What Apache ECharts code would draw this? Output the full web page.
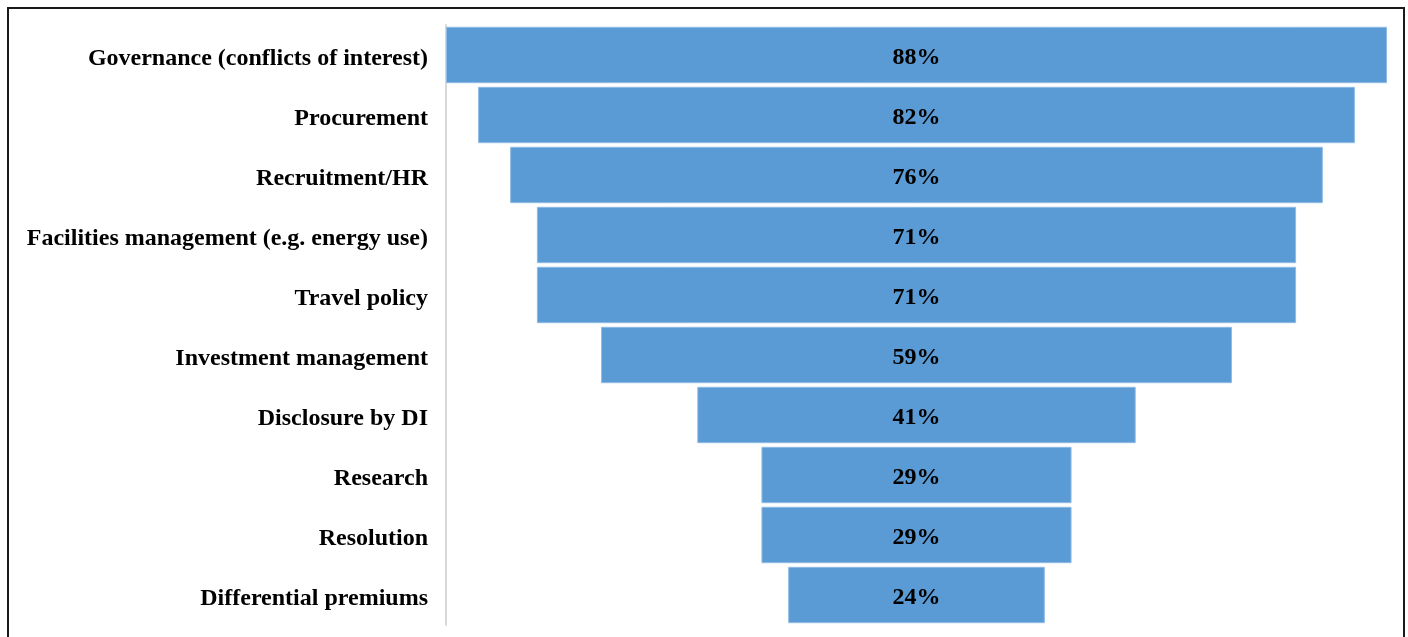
<!DOCTYPE html>
<html>
<head>
<meta charset="utf-8">
<script src="https://cdn.jsdelivr.net/npm/echarts@6/dist/echarts.min.js"></script>
<style>
  html, body { margin: 0; padding: 0; background: #fff; }
  #chart { width: 1408px; height: 637px; }
</style>
</head>
<body>
<div id="chart"></div>
<script>
// categories top to bottom
let categories = [
    'Governance (conflicts of interest)',
    'Procurement',
    'Recruitment/HR',
    'Facilities management (e.g. energy use)',
    'Travel policy',
    'Investment management',
    'Disclosure by DI',
    'Research',
    'Resolution',
    'Differential premiums'
];
let values = [88, 82, 76, 71, 71, 59, 41, 29, 29, 24];
let maxValue = 88;

// invisible offset so each bar sits centred (funnel look)
let offsets = values.map(v => (maxValue - v) / 2);

let labelFont = {
    color: '#000',
    fontFamily: 'Liberation Serif',
    fontWeight: 'bold',
    fontSize: 24
};

let chart = echarts.init(document.getElementById('chart'));
let option = {
    animation: false,
    graphic: [{
        type: 'rect',
        shape: { x: 8, y: 8, width: 1396, height: 660 },
        style: { fill: 'none', stroke: '#1a1a1a', lineWidth: 2 },
        silent: true
    }],
    grid: { left: 446, right: 21, top: 25, bottom: 12 },
    xAxis: {
        type: 'value',
        min: 0,
        max: maxValue,
        show: false
    },
    yAxis: {
        type: 'category',
        inverse: true,
        data: categories,
        axisLine: { show: true, lineStyle: { color: '#d9d9d9', width: 2 } },
        axisTick: { show: false },
        axisLabel: Object.assign({
            margin: 18,
            formatter: v => '{t|' + v + '}',
            rich: { t: Object.assign({ padding: [7, 0, 0, 0] }, labelFont) }
        }, labelFont)
    },
    series: [
        {
            type: 'bar',
            stack: 'funnel',
            data: offsets,
            itemStyle: { color: 'transparent' },
            barCategoryGap: '6%',
            silent: true
        },
        {
            type: 'bar',
            stack: 'funnel',
            data: values,
            barCategoryGap: '6%',
            itemStyle: { color: '#5b9bd5', borderColor: '#8fbbe3', borderWidth: 1 },
            label: Object.assign({
                show: true,
                position: 'inside',
                offset: [0, 3],
                formatter: '{c}%'
            }, labelFont)
        }
    ]
};
chart.setOption(option);
</script>
</body>
</html>
